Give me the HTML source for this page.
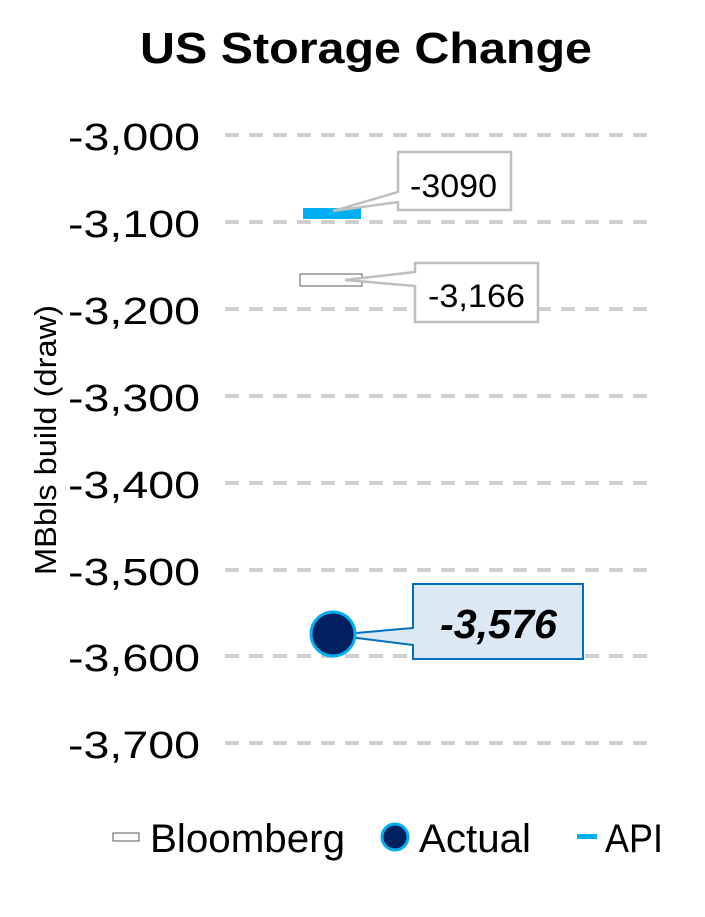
<!DOCTYPE html>
<html><head><style>body{margin:0;background:#fff}</style></head><body>
<svg width="705" height="912" xmlns="http://www.w3.org/2000/svg" font-family="Liberation Sans, sans-serif">
<rect width="705" height="912" fill="#fff"/>
<text x="140" y="63" font-size="44" font-weight="bold" textLength="452" lengthAdjust="spacingAndGlyphs">US Storage Change</text>
<g stroke="#d0d0d0" stroke-width="4" stroke-dasharray="14 10">
<line x1="225" y1="135" x2="650" y2="135"/><line x1="225" y1="222" x2="650" y2="222"/>
<line x1="225" y1="309" x2="650" y2="309"/><line x1="225" y1="396" x2="650" y2="396"/>
<line x1="225" y1="483" x2="650" y2="483"/><line x1="225" y1="570" x2="650" y2="570"/>
<line x1="225" y1="656" x2="650" y2="656"/><line x1="225" y1="743" x2="650" y2="743"/>
</g>
<g font-size="38" fill="#000">
<text x="68" y="150" textLength="132" lengthAdjust="spacingAndGlyphs">-3,000</text>
<text x="68" y="237" textLength="132" lengthAdjust="spacingAndGlyphs">-3,100</text>
<text x="68" y="324" textLength="132" lengthAdjust="spacingAndGlyphs">-3,200</text>
<text x="68" y="411" textLength="132" lengthAdjust="spacingAndGlyphs">-3,300</text>
<text x="68" y="498" textLength="132" lengthAdjust="spacingAndGlyphs">-3,400</text>
<text x="68" y="585" textLength="132" lengthAdjust="spacingAndGlyphs">-3,500</text>
<text x="68" y="671" textLength="132" lengthAdjust="spacingAndGlyphs">-3,600</text>
<text x="68" y="758" textLength="132" lengthAdjust="spacingAndGlyphs">-3,700</text>
</g>
<text transform="translate(56,575) rotate(-90)" font-size="31" textLength="270" lengthAdjust="spacingAndGlyphs">MBbls build (draw)</text>
<rect x="303" y="208" width="58" height="11" fill="#00b0f0"/>
<path d="M398,152 H511 V210 H398 V202 L333,211 L398,192 Z" fill="#fff" stroke="#bfbfbf" stroke-width="2.5"/>
<text x="410" y="197" font-size="32" textLength="87" lengthAdjust="spacingAndGlyphs">-3090</text>
<rect x="300" y="274" width="62" height="12" fill="#fff" stroke="#595959" stroke-width="1"/>
<path d="M415,263 H538 V322 H415 V286 L345,280 L415,272 Z" fill="#fff" stroke="#bfbfbf" stroke-width="2.5"/>
<text x="428" y="307" font-size="32" textLength="97" lengthAdjust="spacingAndGlyphs">-3,166</text>
<path d="M413,584 H583 V659 H413 V645 L333,635 L413,628 Z" fill="#dde8f5" stroke="#0070c0" stroke-width="2"/>
<text x="440" y="638" font-size="41" font-weight="bold" font-style="italic" textLength="117" lengthAdjust="spacingAndGlyphs">-3,576</text>
<circle cx="333" cy="634" r="22" fill="#002060" stroke="#00b0f0" stroke-width="3"/>
<rect x="113" y="833" width="26" height="8" fill="#fff" stroke="#595959" stroke-width="1"/>
<text x="150" y="852" font-size="40" textLength="195" lengthAdjust="spacingAndGlyphs">Bloomberg</text>
<circle cx="395" cy="837" r="13" fill="#002060" stroke="#00b0f0" stroke-width="3"/>
<text x="419" y="852" font-size="40" textLength="112" lengthAdjust="spacingAndGlyphs">Actual</text>
<rect x="577" y="834" width="20" height="5" fill="#00b0f0"/>
<text x="605" y="852" font-size="40" textLength="58" lengthAdjust="spacingAndGlyphs">API</text>
</svg>
</body></html>
